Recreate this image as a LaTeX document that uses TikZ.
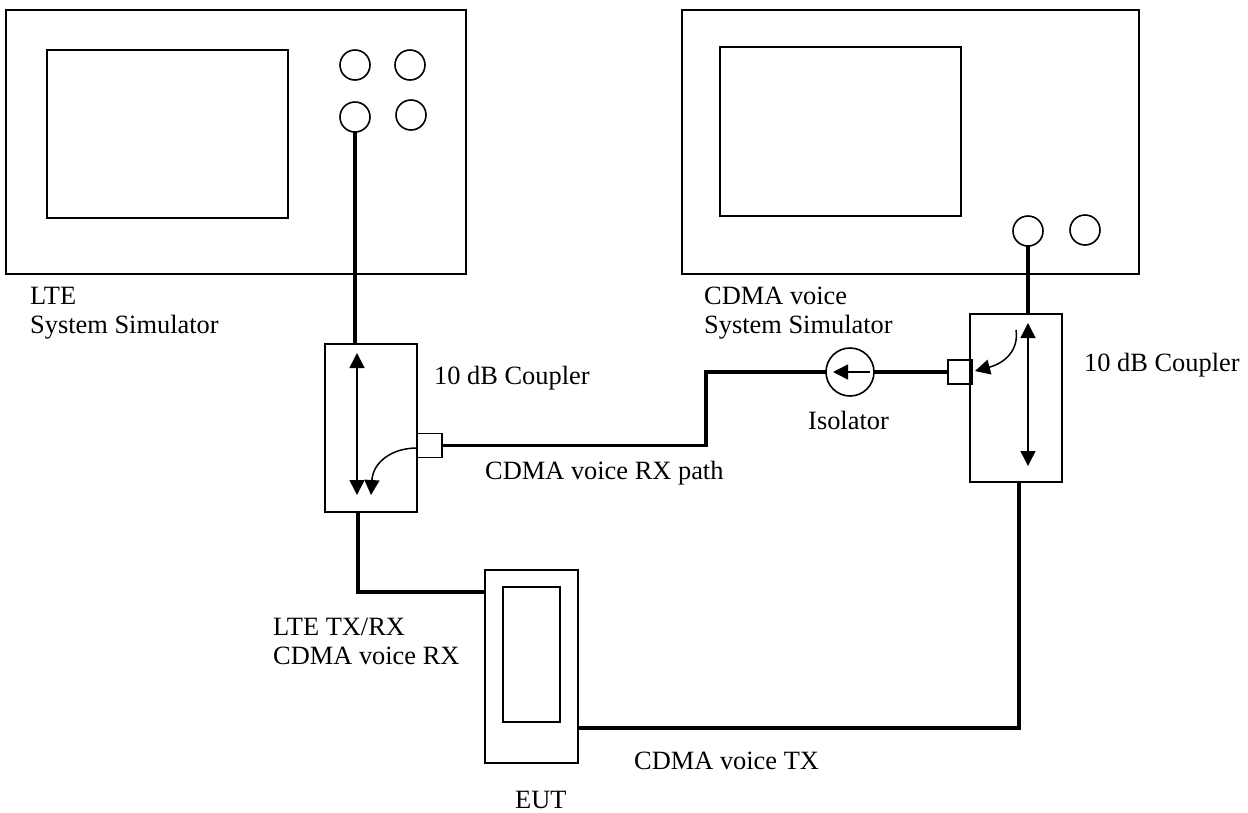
\documentclass[tikz,border=0pt]{standalone}
\usepackage{fontspec}
\setmainfont{Liberation Serif}
\usetikzlibrary{arrows.meta,calc}
\tikzset{
  x=1pt,y=-1pt,
  frame/.style={draw=black,line width=1.8pt,fill=none,inner sep=0pt,outer sep=0pt,rectangle},
  port/.style={draw=black,line width=1.6pt,circle,inner sep=0pt,outer sep=0pt,minimum size=30pt},
  cable/.style={draw=black,line width=3.6pt,line join=miter},
  sig/.style={draw=black,line width=1.5pt,-{Triangle[length=15pt,width=15pt]}},
  sigboth/.style={draw=black,line width=1.5pt,{Triangle[length=15pt,width=15pt]}-{Triangle[length=15pt,width=15pt]}},
  lab/.style={font=\fontsize{26.4}{29}\selectfont,inner sep=0pt,anchor=west,align=left,text=black}
}
\begin{document}
\begin{tikzpicture}
\useasboundingbox (0,0) rectangle (1248,812);
% LTE simulator
\node[frame,minimum width=460pt,minimum height=264pt] (lte) at (236,142) {};
\node[frame,minimum width=241pt,minimum height=168pt] (ltescr) at (167.5,134) {};
\node[port] (p1) at (355,65) {};
\node[port] (p2) at (410,65) {};
\node[port] (p3) at (355,117) {};
\node[port] (p4) at (411,115) {};
% CDMA simulator
\node[frame,minimum width=457pt,minimum height=264pt] (cdma) at (910.5,142) {};
\node[frame,minimum width=241pt,minimum height=169pt] (cdmascr) at (840.5,131.5) {};
\node[port] (q1) at (1028,231) {};
\node[port] (q2) at (1085,230) {};
% couplers
\node[frame,minimum width=92pt,minimum height=168pt] (c1) at (371,428) {};
\node[frame,minimum width=25pt,minimum height=24pt] (s1) at (429.5,445.5) {};
\node[frame,minimum width=92pt,minimum height=168pt] (c2) at (1016,398) {};
\node[frame,minimum width=24pt,minimum height=24pt] (s2) at (960,372) {};
% isolator
\node[port,minimum size=48pt] (iso) at (850,372) {};
% EUT
\node[frame,minimum width=93pt,minimum height=193pt] (eut) at (531.5,666.5) {};
\node[frame,minimum width=57pt,minimum height=135pt] (eutscr) at (531.5,654.5) {};
% cable helper points
\coordinate (a1) at (358,512);
\coordinate (a2) at (358,592);
\coordinate (b1) at (706,445.5);
\coordinate (b2) at (706,372);
\coordinate (d1) at (1019,482);
\coordinate (d2) at (1019,728);
% cables
\draw[cable] (p3.south) -- (p3.south |- c1.north);
\draw[cable] (a1) -- (a2) -- (a2 -| eut.west);
\draw[cable] (s1.east) -- (b1) -- (b2) -- (iso.west);
\draw[cable] (iso.east) -- (s2.west);
\draw[cable] (q1.south) -- (q1.south |- c2.north);
\draw[cable] (d1) -- (d2) -- (d2 -| eut.east);
% coupler signals
\coordinate (t1a) at (357,353);
\coordinate (t1b) at (357,495);
\coordinate (t2a) at (1028,323);
\coordinate (t2b) at (1028,466);
\draw[sigboth] (t1a) -- (t1b);
\draw[sigboth] (t2a) -- (t2b);
\coordinate (u1a) at (417,448);
\coordinate (u1b) at (371,495);
\draw[sig] (u1a) .. controls (392,448) and (373,462) .. (u1b);
\coordinate (u2a) at (1016,330);
\coordinate (u2b) at (975,371);
\draw[sig] (u2a) .. controls (1019,350) and (1005,363) .. (u2b);
\coordinate (v1) at (870,372);
\coordinate (v2) at (833,372);
\draw[sig] (v1) -- (v2);
% labels
\node[lab] (l1) at (30,313) {LTE\\System Simulator};
\node[lab] (l2) at (704,313) {CDMA voice\\System Simulator};
\node[lab] (l3) at (434,378) {10 dB Coupler};
\node[lab] (l4) at (1084,365) {10 dB Coupler};
\node[lab] (l5) at (808,420) {Isolator};
\node[lab] (l6) at (485,473) {CDMA voice RX path};
\node[lab] (l7) at (273,641) {LTE TX/RX\\CDMA voice RX};
\node[lab] (l8) at (634,761) {CDMA voice TX};
\node[lab] (l9) at (515,800) {EUT};
\end{tikzpicture}
\end{document}
